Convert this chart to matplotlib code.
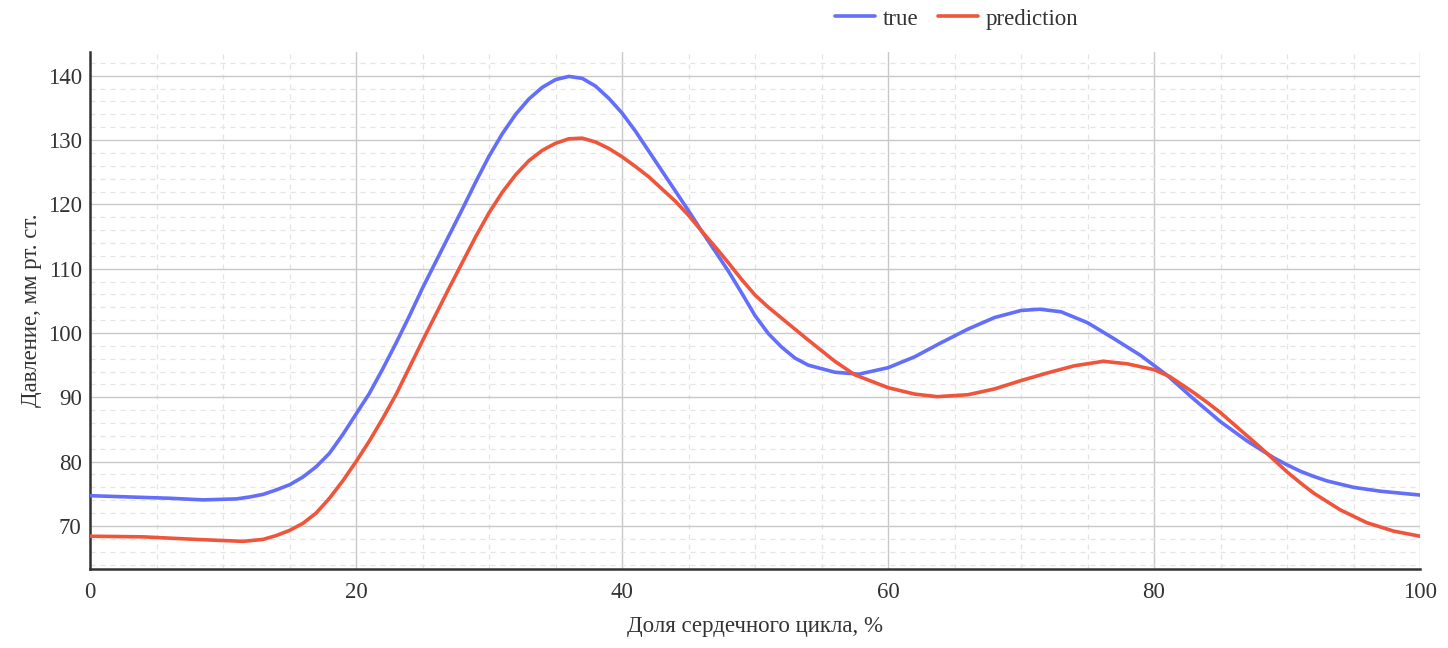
import numpy as np
import matplotlib
matplotlib.use("Agg")
import matplotlib.pyplot as plt
from matplotlib.ticker import MultipleLocator

plt.rcParams['font.family'] = ['Liberation Serif', 'DejaVu Serif']

# values
x_true = [0, 3, 6, 8.5, 11, 12, 13, 14, 15, 16, 17, 18, 19, 20, 21, 22, 23, 24, 25,
          26, 27, 28, 29, 30, 31, 32, 33, 34, 35, 36, 37, 38, 39, 40, 41, 42, 43, 44,
          45, 46, 47, 48, 49, 50, 51, 52, 53, 54, 56, 57.8, 60, 62, 64, 66, 68, 70,
          71.4, 73, 75, 77, 79, 81, 83, 85, 87, 88, 89, 90, 91, 92, 93, 95, 97, 100]
y_true = [74.7, 74.5, 74.3, 74.05, 74.2, 74.5, 74.9, 75.6, 76.4, 77.6, 79.2, 81.3,
          84.2, 87.4, 90.6, 94.4, 98.4, 102.6, 107.0, 111.1, 115.2, 119.3, 123.5,
          127.5, 131.0, 134.0, 136.4, 138.2, 139.4, 139.9, 139.6, 138.4, 136.5, 134.2,
          131.4, 128.3, 125.2, 122.1, 119.0, 115.8, 112.7, 109.6, 106.2, 102.7, 99.9,
          97.8, 96.1, 95.0, 93.9, 93.6, 94.6, 96.3, 98.5, 100.6, 102.4, 103.5, 103.7,
          103.3, 101.6, 99.1, 96.5, 93.4, 89.7, 86.2, 83.2, 81.9, 80.6, 79.5, 78.5,
          77.7, 77.0, 76.0, 75.4, 74.8]

x_pred = [0, 4, 8, 11.5, 13, 14, 15, 16, 17, 18, 19, 20, 21, 22, 23, 24, 25, 26, 27,
          28, 29, 30, 31, 32, 33, 34, 35, 36, 37, 38, 39, 40, 41, 42, 43, 44, 45, 46,
          47, 48, 49, 50, 51, 52, 54, 56, 57.5, 60, 62, 63.7, 66, 68, 70, 72, 74, 76.2,
          78, 80, 81.2, 83, 84, 85, 86, 87, 88, 89, 90, 91, 92, 94, 96, 98, 100]
y_pred = [68.4, 68.3, 67.9, 67.6, 67.9, 68.5, 69.3, 70.4, 72.0, 74.3, 77.0, 80.0,
          83.2, 86.7, 90.4, 94.6, 98.8, 102.9, 107.0, 111.0, 115.0, 118.7, 121.9,
          124.6, 126.8, 128.4, 129.5, 130.2, 130.3, 129.7, 128.7, 127.4, 125.9, 124.3,
          122.4, 120.5, 118.3, 115.8, 113.4, 110.9, 108.3, 105.9, 104.0, 102.3, 98.9,
          95.6, 93.5, 91.5, 90.5, 90.1, 90.4, 91.3, 92.6, 93.8, 94.9, 95.6, 95.2, 94.3,
          93.2, 90.7, 89.2, 87.6, 85.8, 84.0, 82.2, 80.3, 78.4, 76.7, 75.1, 72.5, 70.5,
          69.2, 68.4]

fig = plt.figure(figsize=(14.48, 6.48), dpi=100)
ax = fig.add_axes([0.0622, 0.1219, 0.9185, 0.7979])

ax.plot(x_true, y_true, color='#636efa', lw=2.6, label='true', zorder=3,
        solid_joinstyle='round', solid_capstyle='round')
ax.plot(x_pred, y_pred, color='#ef553b', lw=2.6, label='prediction', zorder=3,
        solid_joinstyle='round', solid_capstyle='round')

ax.set_xlim(0, 100)
ax.set_ylim(63.3, 143.7)
ax.xaxis.set_major_locator(MultipleLocator(20))
ax.xaxis.set_minor_locator(MultipleLocator(5))
ax.yaxis.set_major_locator(MultipleLocator(10))
ax.yaxis.set_minor_locator(MultipleLocator(2))

ax.grid(which='major', color='#c8c8c8', lw=1.0, ls='-')
ax.grid(which='minor', color='#e4e4e4', lw=0.9, ls=(0, (4, 4)))
ax.set_axisbelow(True)

for s in ['top', 'right']:
    ax.spines[s].set_visible(False)
for s in ['left', 'bottom']:
    ax.spines[s].set_color('#333333')
    ax.spines[s].set_linewidth(1.8)

ax.tick_params(which='both', length=0, labelsize=16.5, colors='#333333', pad=6)
ax.tick_params(axis='x', pad=9)

ax.set_xlabel('Доля сердечного цикла, %', fontsize=16.5, color='#333333', labelpad=10)
ax.set_ylabel('Давление, мм рт. ст.', fontsize=16.5, color='#333333', labelpad=4)

fig.legend(loc='center', bbox_to_anchor=(0.6606, 0.9707), ncol=2, frameon=False,
           fontsize=16.5, handlelength=1.75, columnspacing=0.85, handletextpad=0.35,
           labelcolor='#333333')

fig.savefig('out.png', dpi=100)
